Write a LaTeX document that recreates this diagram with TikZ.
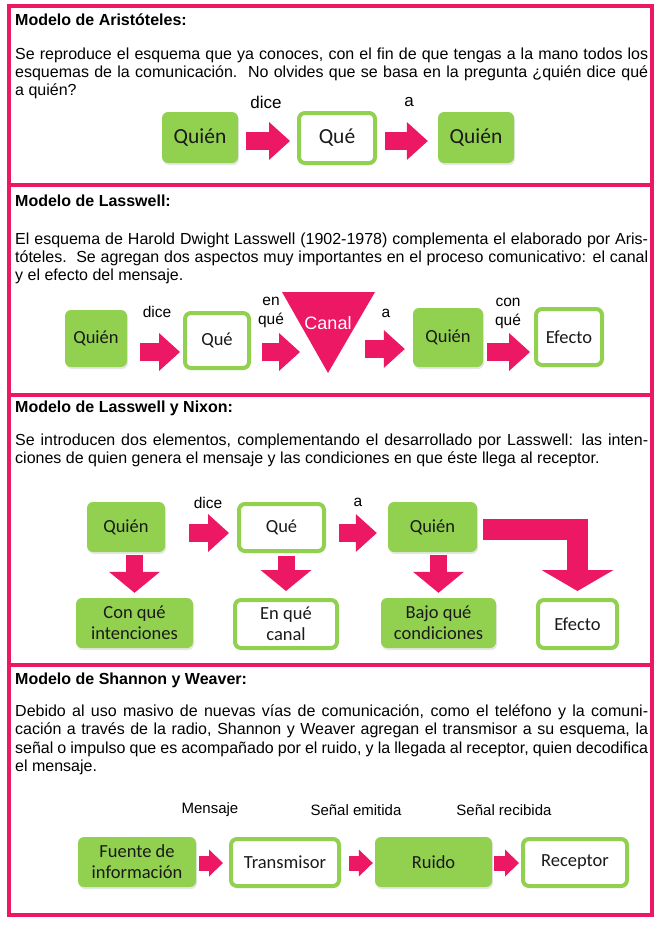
\documentclass[tikz,border=0pt]{standalone}
\usepackage{fontspec}
\setmainfont{Liberation Sans}
\newfontfamily\boxfont{Carlito}
\usetikzlibrary{arrows.meta,positioning,calc,shadows}
\definecolor{esqPink}{HTML}{EC1864}
\definecolor{esqGreen}{HTML}{92D050}
\definecolor{esqText}{HTML}{1A1A1A}

\begin{document}
\begin{tikzpicture}[
  x=1pt,y=-1pt,
  frame/.style={draw=esqPink,line width=4pt},
  title/.style={anchor=base west,inner sep=0pt,font=\fontsize{16}{19}\selectfont\bfseries},
  para/.style={anchor=base west,inner sep=0pt,font=\fontsize{16}{18.4}\selectfont},
  lab/.style={inner sep=0pt,align=center,font=\fontsize{15.5}{19}\selectfont},
  box/.style={rounded corners=6pt,inner sep=0pt,align=center,text=esqText,
    font=\boxfont\fontsize{18.5}{21}\selectfont,
    drop shadow={opacity=.2,shadow xshift=1pt,shadow yshift=-2pt}},
  greenbox/.style={box,fill=esqGreen},
  whitebox/.style={box,draw=esqGreen,line width=4pt,fill=white},
  flow/.style={draw=esqPink,line width=18pt,
    -{Triangle[length=21pt,width=38pt,line width=0pt]}},
  flowdown/.style={draw=esqPink,line width=17pt,
    -{Triangle[length=21pt,width=51pt,line width=0pt]}},
  flowbend/.style={draw=esqPink,line width=21pt,line join=miter,
    -{Triangle[length=21pt,width=72pt,line width=0pt]}},
  flowsmall/.style={draw=esqPink,line width=15pt,
    -{Triangle[length=14pt,width=27pt,line width=0pt]}}
]
  \useasboundingbox (0,0) rectangle (662,926);
  \draw[frame] (8.5,5.5) rectangle (652,915);
  \draw[frame] (8.5,185) -- (652,185);
  \draw[frame] (8.5,395) -- (652,395);
  \draw[frame] (8.5,665) -- (652,665);

  \node[title] (t1) at (15,25) {Modelo de Aristóteles:};
  \node[para] (p1a) at (15,59) {\makebox[633pt][s]{Se reproduce el esquema que ya conoces, con el fin de que tengas a la mano todos los}};
  \node[para] (p1b) at (15,77.4) {\makebox[633pt][s]{esquemas de la comunicación.\ \ No olvides que se basa en la pregunta ¿quién dice qué}};
  \node[para] (p1c) at (15,95.8) {a quién?};
  \node[greenbox,minimum width=76pt,minimum height=51pt,font=\boxfont\fontsize{21.5}{24}\selectfont] (q1a) at (200,137.5) {Quién};
  \node[whitebox,minimum width=76pt,minimum height=50pt,font=\boxfont\fontsize{21.5}{24}\selectfont] (w1) at (337,138) {Qué};
  \node[greenbox,minimum width=76pt,minimum height=51pt,font=\boxfont\fontsize{21.5}{24}\selectfont] (q1b) at (476,137.5) {Quién};
  \draw[flow,shorten <=8pt,shorten >=7pt] ([yshift=-3.5pt]q1a.east) -- ([yshift=-3.5pt]q1a.east -| w1.west);
  \draw[flow,shorten <=8pt,shorten >=10pt] ([yshift=-3.5pt]q1a.east -| w1.east) -- ([yshift=-3.5pt]q1a.east -| q1b.west);
  \node[lab,font=\fontsize{17}{19}\selectfont] (l1a) at (266,102) {dice};
  \node[lab,font=\fontsize{17}{19}\selectfont] (l1b) at (409,102) {a};

  \node[title] (t2) at (15,206) {Modelo de Lasswell:};
  \node[para] (p2a) at (15,244) {\makebox[633pt][s]{El esquema de Harold Dwight Lasswell (1902-1978) complementa el elaborado por Aris-}};
  \node[para] (p2b) at (15,262.4) {\makebox[633pt][s]{tóteles.\ \ Se agregan dos aspectos muy importantes en el proceso comunicativo: el canal}};
  \node[para] (p2c) at (15,280.8) {y el efecto del mensaje.};
  \node[greenbox,minimum width=62pt,minimum height=57pt] (q2a) at (96,338.5) {Quién};
  \node[whitebox,minimum width=64pt,minimum height=55pt] (w2) at (217,340.5) {Qué};
  \fill[esqPink] (282,292) -- (375,292) -- (328,373) -- cycle;
  \node[inner sep=0pt,text=white,font=\fontsize{18}{20}\selectfont] (canal) at (328,323) {Canal};
  \coordinate (canalin) at (300,352);
  \coordinate (canalout) at (365,349);
  \node[greenbox,minimum width=70pt,minimum height=59pt] (q2b) at (448,337.5) {Quién};
  \node[whitebox,minimum width=66pt,minimum height=56pt] (e2) at (569,337) {Efecto};
  \draw[flow,shorten <=13pt,shorten >=3pt] ([yshift=-13.5pt]q2a.east) -- ([yshift=-13.5pt]q2a.east -| w2.west);
  \draw[flow,shorten <=11pt] (canalin -| w2.east) -- (canalin);
  \draw[flow,shorten >=8pt] (canalout) -- (canalout -| q2b.west);
  \draw[flow,shorten <=4pt,shorten >=4pt] ([yshift=-14.5pt]q2b.east) -- ([yshift=-14.5pt]q2b.east -| e2.west);
  \node[lab] (l2a) at (157,312) {dice};
  \node[lab] (l2b) at (271,312.5) {en\\qué};
  \node[lab] (l2c) at (386,313) {a};
  \node[lab] (l2d) at (508,313.5) {con\\qué};

  \node[title] (t3) at (15,412) {Modelo de Lasswell y Nixon:};
  \node[para] (p3a) at (15,445) {\makebox[633pt][s]{Se introducen dos elementos, complementando el desarrollado por Lasswell: las inten-}};
  \node[para] (p3b) at (15,463.4) {ciones de quien genera el mensaje y las condiciones en que éste llega al receptor.};
  \node[greenbox,minimum width=78pt,minimum height=50pt] (q3a) at (126,527) {Quién};
  \node[whitebox,minimum width=85pt,minimum height=47pt] (w3) at (281.5,527.5) {Qué};
  \node[greenbox,minimum width=89pt,minimum height=50pt] (q3b) at (432.5,527) {Quién};
  \node[greenbox,minimum width=117pt,minimum height=50pt] (b3a) at (134.5,623) {Con qué\\intenciones};
  \node[whitebox,minimum width=102pt,minimum height=48pt] (b3b) at (286,624) {En qué\\canal};
  \node[greenbox,minimum width=115pt,minimum height=50pt] (b3c) at (438.5,623) {Bajo qué\\condiciones};
  \node[whitebox,minimum width=79pt,minimum height=48pt] (e3) at (577.5,624) {Efecto};
  \draw[flow,shorten <=24pt,shorten >=8pt] ([yshift=-6pt]q3a.east) -- ([yshift=-6pt]q3a.east -| w3.west);
  \draw[flow,shorten <=13pt,shorten >=11pt] ([yshift=-6pt]q3a.east -| w3.east) -- ([yshift=-6pt]q3a.east -| q3b.west);
  \draw[flowdown,shorten <=3pt,shorten >=5pt] (b3a.north |- q3a.south) -- (b3a.north);
  \draw[flowdown,shorten <=3pt,shorten >=7pt] (b3b.north |- w3.south) -- (b3b.north);
  \draw[flowdown,shorten <=3pt,shorten >=5pt] (b3c.north |- q3b.south) -- (b3c.north);
  \draw[flowbend,shorten <=6pt,shorten >=7pt] ([yshift=-2pt]q3b.east) -| (e3.north);
  \node[lab] (l3a) at (208,503) {dice};
  \node[lab] (l3b) at (358,502) {a};

  \node[title] (t4) at (15,684) {Modelo de Shannon y Weaver:};
  \node[para] (p4a) at (15,716.5) {\makebox[633pt][s]{Debido al uso masivo de nuevas vías de comunicación, como el teléfono y la comuni-}};
  \node[para] (p4b) at (15,734.9) {\makebox[633pt][s]{cación a través de la radio, Shannon y Weaver agregan el transmisor a su esquema, la}};
  \node[para] (p4c) at (15,753.3) {\makebox[633pt][s]{señal o impulso que es acompañado por el ruido, y la llegada al receptor, quien decodifica}};
  \node[para] (p4d) at (15,771.7) {el mensaje.};
  \node[greenbox,minimum width=118pt,minimum height=50pt] (f4) at (137,862) {Fuente de\\información};
  \node[whitebox,minimum width=108pt,minimum height=47pt] (t4b) at (285,862.5) {Transmisor};
  \node[greenbox,minimum width=117pt,minimum height=50pt] (r4) at (433.5,862) {Ruido};
  \node[whitebox,minimum width=104pt,minimum height=47pt] (c4) at (575,862.5) {Receptor};
  \draw[flowsmall,shorten <=3pt,shorten >=6pt] ([yshift=-1pt]f4.east) -- ([yshift=-1pt]f4.east -| t4b.west);
  \draw[flowsmall,shorten <=8pt,shorten >=2pt] ([yshift=-1pt]f4.east -| t4b.east) -- ([yshift=-1pt]f4.east -| r4.west);
  \draw[flowsmall,shorten <=2pt,shorten >=2pt] ([yshift=-1pt]r4.east) -- ([yshift=-1pt]r4.east -| c4.west);
  \node[lab,font=\fontsize{15}{18}\selectfont] (l4a) at (210,810) {Mensaje};
  \node[lab,font=\fontsize{15}{18}\selectfont] (l4b) at (356,810) {Señal emitida};
  \node[lab,font=\fontsize{15}{18}\selectfont] (l4c) at (504,810) {Señal recibida};
\end{tikzpicture}
\end{document}
